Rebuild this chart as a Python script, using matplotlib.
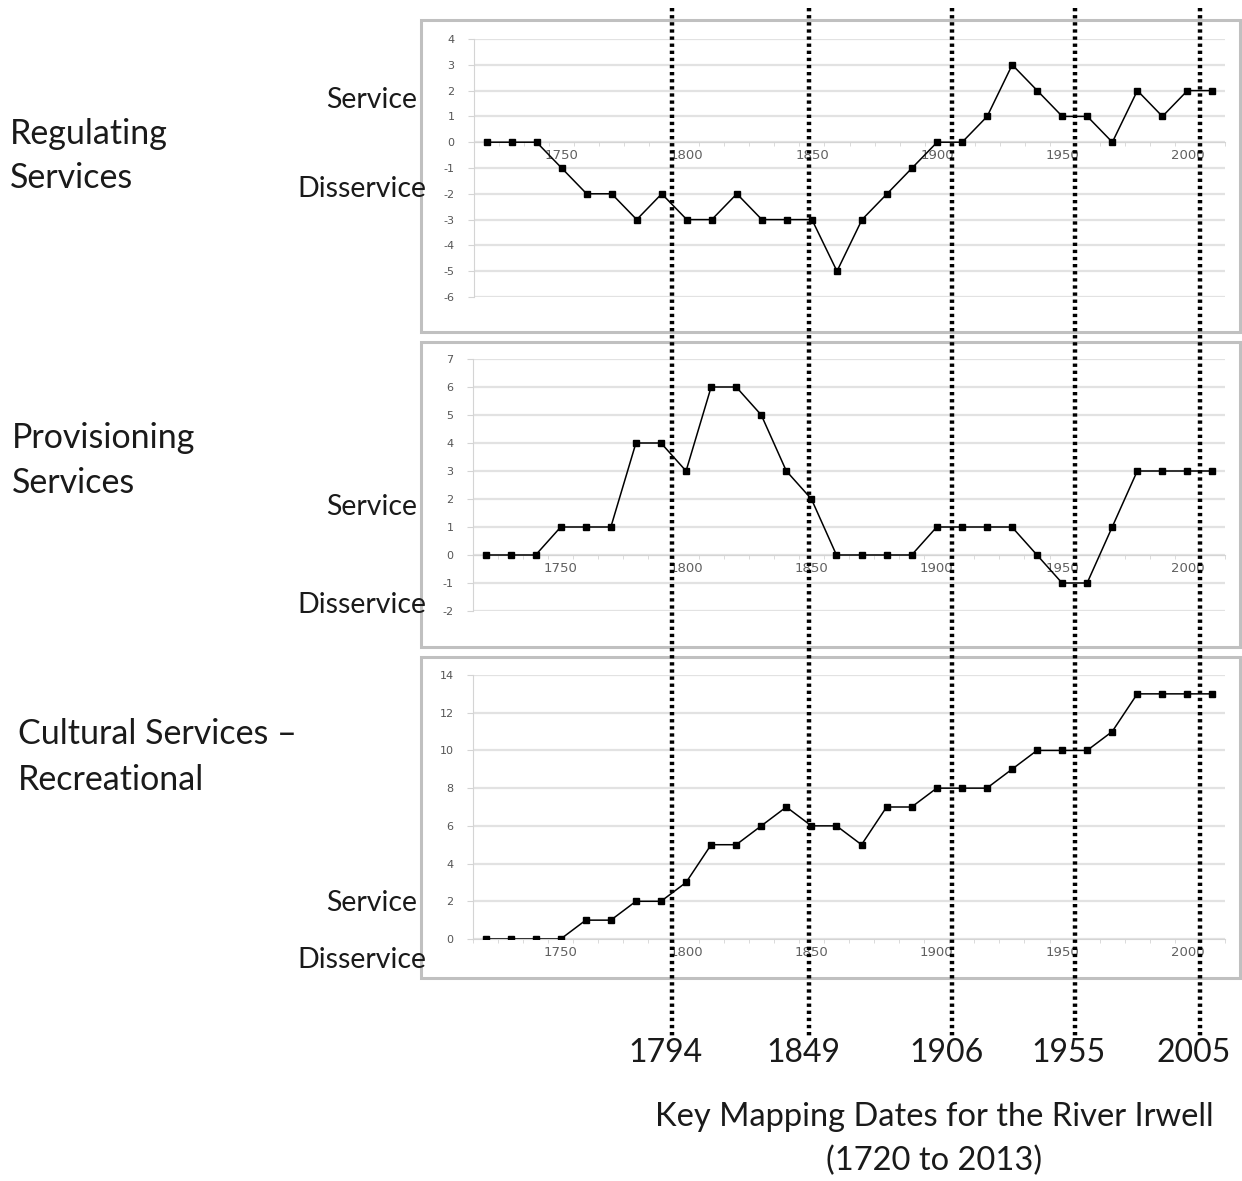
import matplotlib
matplotlib.use("Agg")
from matplotlib import pyplot as plt
from matplotlib.patches import Rectangle
from matplotlib.lines import Line2D

plt.rcParams["axes.unicode_minus"] = False

# %% data (one value per decade)
years = list(range(1720, 2011, 10))
regulating = [0, 0, 0, -1, -2, -2, -3, -2, -3, -3, -2, -3, -3, -3, -5,
              -3, -2, -1, 0, 0, 1, 3, 2, 1, 1, 0, 2, 1, 2, 2]
provisioning = [0, 0, 0, 1, 1, 1, 4, 4, 3, 6, 6, 5, 3, 2, 0,
                0, 0, 0, 1, 1, 1, 1, 0, -1, -1, 1, 3, 3, 3, 3]
cultural = [0, 0, 0, 0, 1, 1, 2, 2, 3, 5, 5, 6, 7, 6, 6,
            5, 7, 7, 8, 8, 8, 9, 10, 10, 10, 11, 13, 13, 13, 13]
year_labels = [1750, 1800, 1850, 1900, 1950, 2000]
key_dates = [1794, 1849, 1906, 1955, 2005]

# %% layout
W, H = 1242, 1181
fig = plt.figure(figsize=(W / 100, H / 100), dpi=100)
FONT = "Lato"
TXT = "#1a1a1a"


def fig_xy(x, y):
    return x / W, 1 - y / H


def px_axes(x0, y0, x1, y1):
    return fig.add_axes([x0 / W, 1 - y1 / H, (x1 - x0) / W, (y1 - y0) / H])


panels = [
    dict(vals=regulating, ylim=(-6, 4), step=1, ax=(474, 39, 1225, 297), box=(421, 20, 1240, 332),
         title="Regulating\nServices", title_xy=(10, 156), svc_y=100, dis_y=189),
    dict(vals=provisioning, ylim=(-2, 7), step=1, ax=(473, 359, 1225, 611), box=(421, 342, 1240, 647),
         title="Provisioning\nServices", title_xy=(12, 461), svc_y=507, dis_y=605),
    dict(vals=cultural, ylim=(0, 14), step=2, ax=(473, 675, 1225, 939), box=(421, 657, 1240, 978),
         title="Cultural Services \u2013\nRecreational", title_xy=(18, 757), svc_y=903, dis_y=960),
]

axes = []
for p in panels:
    x0, y0, x1, y1 = p["box"]
    fig.patches.append(Rectangle(fig_xy(x0, y1), (x1 - x0) / W, (y1 - y0) / H,
                                 transform=fig.transFigure, fill=False,
                                 edgecolor="#c0c0c0", lw=2.2))
    ax = px_axes(*p["ax"])
    ax.patch.set_alpha(0)
    ax.plot(years, p["vals"], color="black", lw=1.1, marker="s", ms=5, zorder=3)
    lo, hi = p["ylim"]
    ax.set_xlim(1715, 2015)
    ax.set_ylim(lo, hi)
    ax.set_yticks(range(lo, hi + 1, p["step"]))
    ax.yaxis.grid(True, color="#e2e2e2", lw=1.6)
    ax.set_axisbelow(True)
    for s in ["top", "right"]:
        ax.spines[s].set_visible(False)
    ax.spines["left"].set_color("#d4d4d4")
    ax.spines["bottom"].set_color("#d4d4d4")
    ax.spines["bottom"].set_position(("data", 0))
    ax.set_xticks(year_labels)
    ax.set_xticks(range(1715, 2016, 10), minor=True)
    ax.tick_params(axis="x", which="major", length=0, pad=5, labelsize=9.5, labelcolor="#606060")
    ax.tick_params(axis="x", which="minor", length=3, color="#d4d4d4")
    ax.tick_params(axis="y", length=4, color="#d4d4d4", pad=10, labelsize=8, labelcolor="#555555")
    axes.append(ax)

    fig.text(*fig_xy(*p["title_xy"]), p["title"], family=FONT, fontsize=24.5,
             ha="left", va="center", linespacing=1.5, color=TXT)
    fig.text(*fig_xy(417, p["svc_y"]), "Service", family=FONT, fontsize=20.5,
             ha="right", va="center", color=TXT)
    fig.text(*fig_xy(426, p["dis_y"]), "Disservice", family=FONT, fontsize=20.5,
             ha="right", va="center", color=TXT)

# %% key mapping dates, dotted lines through all panels
inv = fig.transFigure.inverted()
for d in key_dates:
    xf = inv.transform(axes[0].transData.transform((d, 0)))[0]
    fig.lines.append(Line2D([xf, xf], [1 - 8 / H, 1 - 1038 / H], transform=fig.transFigure,
                            color="black", lw=3.2, linestyle=(0, (0.75, 0.85)), zorder=10))
    fig.text(xf - 6 / W, 1 - 1053 / H, str(d), family=FONT, fontsize=23,
             ha="center", va="center", color=TXT)

fig.text(*fig_xy(934, 1139), "Key Mapping Dates for the River Irwell\n(1720 to 2013)",
         family=FONT, fontsize=23.5, ha="center", va="center", linespacing=1.55, color=TXT)

plt.savefig("out.png", dpi=100)
